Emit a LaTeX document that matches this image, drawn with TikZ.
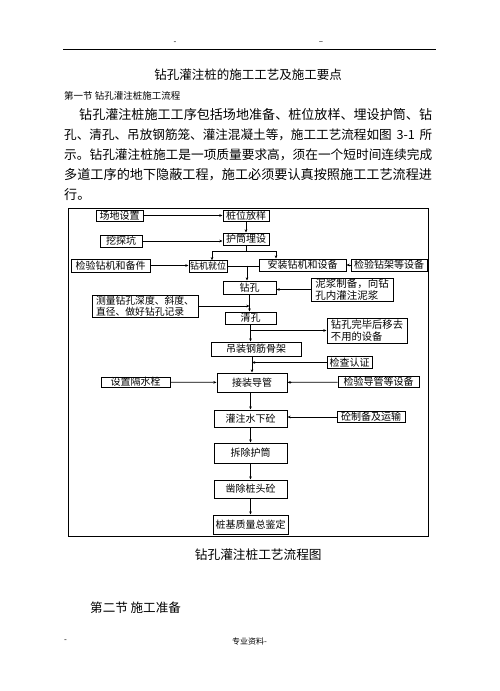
\documentclass[tikz,border=0pt]{standalone}
\usepackage{fontspec}
\setmainfont{Noto Sans CJK SC}
\usetikzlibrary{arrows.meta}
\newcommand{\fsz}[1]{\fontsize{#1}{#1}\selectfont}

\begin{document}
\begin{tikzpicture}[x=1pt,y=-1pt,
	box/.style={draw,line width=1pt,inner sep=0pt,font=\fsz{10}},
	link/.style={line width=0.8pt},
	arr/.style={line width=0.8pt,-{Stealth[length=3.2pt,width=2.6pt]}},
	txt/.style={inner sep=0pt,anchor=west}]
	\useasboundingbox (0,0) rectangle (499,691);

	% page header
	\node[inner sep=0pt,font=\fsz{8}] (hdleft) at (175,43) {-};
	\node[inner sep=0pt,font=\fsz{8}] (hdright) at (321,43) {--};
	\draw[line width=1pt] (63,49) -- (436,49);

	% title and text
	\node[inner sep=0pt,font=\fsz{12.5}] (title) at (248,75) {钻孔灌注桩的施工工艺及施工要点};
	\node[txt,font=\fsz{9.5}] (sec1) at (64,96) {第一节 钻孔灌注桩施工流程};
	\node[txt,font=\fsz{13.07}] (par1) at (79,115) {钻孔灌注桩施工工序包括场地准备、桩位放样、埋设护筒、钻};
	\node[txt,font=\fsz{12.6}] (par2) at (64,135) {\makebox[368pt][s]{孔、清孔、吊放钢筋笼、灌注混凝土等，施工工艺流程如图 3-1 所}};
	\node[txt,font=\fsz{12.69}] (par3) at (64,155) {示。钻孔灌注桩施工是一项质量要求高，须在一个短时间连续完成};
	\node[txt,font=\fsz{13.14}] (par4) at (64,175) {多道工序的地下隐蔽工程，施工必须要认真按照施工工艺流程进};
	\node[txt,font=\fsz{13.1}] (par5) at (64,195) {行。};

	% flow chart frame
	\draw[line width=1pt] (68,208) rectangle (428,536);

	% boxes
	\node[box,minimum width=47pt,minimum height=11pt] (site) at (119.5,215.5) {场地设置};
	\node[box,minimum width=46pt,minimum height=11pt] (stake) at (246,215.5) {桩位放样};
	\node[box,minimum width=42pt,minimum height=12pt] (pit) at (121,241) {挖探坑};
	\node[box,minimum width=46pt,minimum height=12pt] (casing) at (246,239) {护筒埋设};
	\node[box,minimum width=79pt,minimum height=13pt] (checkrig) at (110.5,265.5) {检验钻机和备件};
	\node[box,minimum width=38pt,minimum height=11.5pt,font=\fsz{9}] (rigpos) at (208,266.5) {钻机就位};
	\node[box,minimum width=87pt,minimum height=12pt] (install) at (302.5,265) {安装钻机和设备};
	\node[box,minimum width=76pt,minimum height=12pt] (checkframe) at (389,265) {检验钻架等设备};
	\node[box,minimum width=53pt,minimum height=13.5pt] (drill) at (249.5,287.75) {钻孔};
	\node[box,minimum width=82pt,minimum height=23pt,align=left,font=\fontsize{10.5}{11.5}\selectfont] (mud) at (352,289.5) {泥浆制备，向钻\\孔内灌注泥浆};
	\node[box,minimum width=106pt,minimum height=22pt,align=left,font=\fontsize{9.8}{11}\selectfont] (measure) at (145,306) {测量钻孔深度、斜度、\\直径、做好钻孔记录};
	\node[box,minimum width=51pt,minimum height=12pt] (clean) at (250.5,318) {清孔};
	\node[box,minimum width=80pt,minimum height=25pt,align=left,font=\fontsize{10.3}{12}\selectfont] (remove) at (367,330.5) {钻孔完毕后移去\\不用的设备};
	\node[box,minimum width=90pt,minimum height=14pt] (cage) at (256,349) {吊装钢筋骨架};
	\node[box,minimum width=45pt,minimum height=11.5pt] (inspect) at (349.5,362.5) {检查认证};
	\node[box,minimum width=70pt,minimum height=19pt] (tube) at (252,382.5) {接装导管};
	\node[box,minimum width=69pt,minimum height=10pt] (plug) at (135.5,382) {设置隔水栓};
	\node[box,minimum width=81pt,minimum height=10.5pt] (checktube) at (378.5,382) {检验导管等设备};
	\node[box,minimum width=73pt,minimum height=17pt] (pour) at (250.5,418.5) {灌注水下砼};
	\node[box,minimum width=68pt,minimum height=10.5pt] (concrete) at (371,417) {砼制备及运输};
	\node[box,minimum width=73pt,minimum height=20pt] (pull) at (250.5,453) {拆除护筒};
	\node[box,minimum width=73pt,minimum height=18pt] (chisel) at (250.5,489) {凿除桩头砼};
	\node[box,minimum width=75pt,minimum height=19pt] (final) at (250.5,524.5) {桩基质量总鉴定};

	% connectors
	\coordinate (split) at (246,251);
	\coordinate (merge) at (247,265.7);
	\draw[arr] (site) -- (stake);
	\draw[arr] (stake) -- (casing);
	\draw[arr] (pit.east) -- (pit.east -| casing.west);
	\draw[link] (casing) -- (split);
	\draw[arr] (split) -| ([xshift=4pt]rigpos.north);
	\draw[arr] (split) -| ([xshift=-26.5pt]install.north);
	\draw[arr] (checkrig.east) -- (checkrig.east -| rigpos.west);
	\draw[link] (rigpos.east) -- (rigpos.east -| install.west);
	\draw[arr] (checkframe) -- (install);
	\draw[arr] (merge) -- (merge |- drill.north);
	\draw[arr] (mud.west) -- (mud.west -| drill.east);
	\draw[arr] (drill) -- (drill.south |- clean.north);
	\draw[arr] (measure.east) -- (measure.east -| drill.south);
	\draw[arr] (clean) -- (clean.south |- cage.north);
	\draw[arr] (clean.south |- remove.west) -- (remove.west);
	\draw[arr] (tube.north |- cage.south) -- (tube.north);
	\draw[arr] (inspect.west) -- (inspect.west -| tube.north);
	\draw[arr] (plug) -- (tube);
	\draw[arr] (checktube) -- (tube);
	\draw[arr] (pour.north |- tube.south) -- (pour.north);
	\draw[arr] (concrete.west) -- (concrete.west -| pour.east);
	\draw[arr] (pour) -- (pull);
	\draw[arr] (pull) -- (chisel);
	\draw[arr] (chisel) -- (final);

	% caption and next section
	\node[inner sep=0pt,font=\fsz{12.67}] (caption) at (258.3,555) {钻孔灌注桩工艺流程图};
	\node[txt,font=\fsz{12.55}] (sec2) at (90,608) {第二节 施工准备};

	% page footer
	\node[txt,font=\fsz{8}] (ftleft) at (64,641) {-};
	\node[inner sep=0pt,font=\fsz{8}] (ftmid) at (249.5,641) {专业资料-};
\end{tikzpicture}
\end{document}
